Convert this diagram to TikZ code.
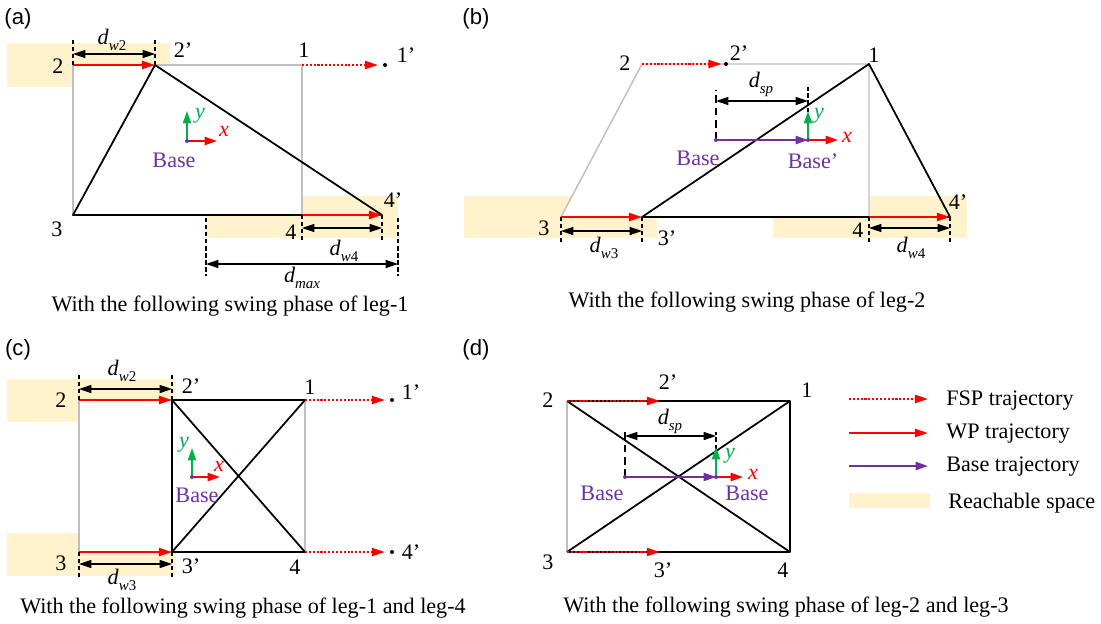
\documentclass[tikz,border=0pt]{standalone}
\usepackage{fontspec}
\setmainfont{Liberation Serif}
\newfontfamily\panelfont{Liberation Sans}
\usetikzlibrary{arrows.meta, calc}
\definecolor{cReach}{HTML}{FFF2CC}
\definecolor{cGrey}{HTML}{BFBFBF}
\definecolor{cRed}{HTML}{FF0000}
\definecolor{cGreen}{HTML}{00B050}
\definecolor{cBase}{HTML}{7030A0}
\newcommand{\dlab}[1]{\textit{d}\raisebox{-0.6ex}{\fontsize{8.5}{9}\selectfont #1}}
\tikzset{
  reach/.style    ={fill=cReach, draw=none},
  support/.style  ={draw=cGrey, line width=0.8pt},
  leg/.style      ={draw=black, line width=1pt, line join=round},
  wp/.style       ={-{Triangle[length=7.5pt,width=4.6pt]}, draw=cRed, line width=1.1pt},
  fsp/.style      ={wp, dash pattern=on 1.2pt off 1pt},
  basetraj/.style ={-{Triangle[length=7pt,width=4.6pt]}, draw=cBase, line width=1.1pt},
  xaxis/.style    ={-{Triangle[length=7pt,width=4.6pt]}, draw=cRed, line width=1.1pt},
  yaxis/.style    ={-{Triangle[length=7pt,width=4.6pt]}, draw=cGreen, line width=1.1pt},
  dim/.style      ={{Triangle[length=7pt,width=4.6pt]}-{Triangle[length=7pt,width=4.6pt]}, line width=0.6pt},
  tick/.style     ={line width=0.6pt, dash pattern=on 2.5pt off 1.5pt},
  lbl/.style      ={font=\fontsize{12.6}{14}\selectfont, inner sep=0pt},
  dimlbl/.style   ={lbl},
  baselbl/.style  ={lbl, text=cBase},
  axlbl/.style    ={lbl, font=\fontsize{12.6}{14}\selectfont\itshape},
  panel/.style    ={font=\panelfont\fontsize{12.6}{14}\selectfont, inner sep=0pt},
  caption/.style  ={lbl},
  dotpt/.style    ={fill=black},
  basept/.style   ={fill=cBase}
}

\begin{document}
\begin{tikzpicture}[x=0.02cm, y=-0.02cm]
  \useasboundingbox (0,0) rectangle (1101,623);

  % ====================== (a) leg-1 swing ======================
  \node[panel] (pa) at (18,19) {(a)};
  \coordinate (a2)  at (73,65);
  \coordinate (a1)  at (302,65);
  \coordinate (a3)  at (73,215);
  \coordinate (a4)  at (302,215);
  \coordinate (a2p) at (155,65);
  \coordinate (a4p) at (382,215);
  \coordinate (a1p) at (385,65);

  \fill[reach] (7,43) rectangle (170,87);
  \fill[reach] (206,196) rectangle (398,238);
  \fill[white] (a2) rectangle (a4);
  \draw[support] (a2) rectangle (a4);
  \draw[leg] (a2p) -- (a3) -- (a4p) -- cycle;
  \draw[wp] (a2) -- (a2p);
  \draw[wp] (a4) -- (a4p);
  \draw[fsp, shorten >=4pt] (a1) -- (a1p);
  \fill[dotpt] (a1p) circle (2);

  \node[lbl] (la2)  at (58,66)   {2};
  \node[lbl] (la2p) at (183,50)  {2'};
  \node[lbl] (la1)  at (304,50)  {1};
  \node[lbl] (la1p) at (406,55)  {1'};
  \node[lbl] (la3)  at (57,229)  {3};
  \node[lbl] (la4)  at (291,232) {4};
  \node[lbl] (la4p) at (393,200) {4'};

  % dimensions
  \draw[tick] (a2) -- ++(0,-28);
  \draw[tick] (a2p) -- ++(0,-28);
  \draw[dim] ($(a2)+(0,-11)$) -- ($(a2p)+(0,-11)$);
  \node[dimlbl] (lw2a) at (112,40) {\dlab{\textit{w}2}};
  \draw[tick] (a4) -- ++(0,26);
  \draw[tick] (a4p) -- ++(0,26);
  \draw[dim] ($(a4)+(0,13)$) -- ($(a4p)+(0,13)$);
  \node[dimlbl] (lw4a) at (344,251) {\dlab{\textit{w}4}};
  \coordinate (amin) at (206,218);
  \coordinate (amax) at (398,218);
  \draw[tick] (amin) -- ++(0,58);
  \draw[tick] (amax) -- ++(0,58);
  \draw[dim] ($(amin)+(0,46)$) -- ($(amax)+(0,46)$);
  \node[dimlbl] (lmax) at (302,278) {\dlab{\textit{max}}};

  % body frame
  \coordinate (aB) at (187,141);
  \draw[yaxis] (aB) -- ++(0,-30);
  \draw[xaxis] (aB) -- ++(30,0);
  \fill[basept] (aB) circle (2);
  \node[axlbl, text=cGreen] (ay) at (200,116) {y};
  \node[axlbl, text=cRed]   (ax) at (224,131) {x};
  \node[baselbl] (aBl) at (174,160) {Base};

  \node[caption] (capa) at (230,306) {With the following swing phase of leg-1};

  % ====================== (b) leg-2 swing ======================
  \node[panel] (pb) at (476,19) {(b)};
  \coordinate (b2)  at (642,64);
  \coordinate (b1)  at (869,64);
  \coordinate (b3)  at (561,217);
  \coordinate (b4)  at (869,217);
  \coordinate (b2p) at (726,64);
  \coordinate (b3p) at (642,217);
  \coordinate (b4p) at (950,217);

  \fill[reach] (464,196) rectangle (657,238);
  \fill[reach] (773,196) rectangle (967,238);
  \fill[white] (b2) -- (b1) -- (b4) -- (b3) -- cycle;
  \draw[support] (b2) -- (b1) -- (b4) -- (b3) -- cycle;
  \draw[leg] (b3p) -- (b1) -- (b4p) -- cycle;
  \draw[wp] (b3) -- (b3p);
  \draw[wp] (b4) -- (b4p);
  \draw[fsp, shorten >=2.5pt] (b2) -- (b2p);
  \fill[dotpt] (b2p) circle (2);

  \node[lbl] (lb2)  at (625,63)  {2};
  \node[lbl] (lb2p) at (739,53)  {2'};
  \node[lbl] (lb1)  at (874,55)  {1};
  \node[lbl] (lb3)  at (544,228) {3};
  \node[lbl] (lb3p) at (667,238) {3'};
  \node[lbl] (lb4)  at (858,230) {4};
  \node[lbl] (lb4p) at (958,202) {4'};

  % dimensions
  \draw[tick] (b3) -- ++(0,26);
  \draw[tick] (b3p) -- ++(0,26);
  \draw[dim] ($(b3)+(0,14)$) -- ($(b3p)+(0,14)$);
  \node[dimlbl] (lw3b) at (604,248) {\dlab{\textit{w}3}};
  \draw[tick] (b4) -- ++(0,26);
  \draw[tick] (b4p) -- ++(0,26);
  \draw[dim] ($(b4)+(0,11)$) -- ($(b4p)+(0,11)$);
  \node[dimlbl] (lw4b) at (911,248) {\dlab{\textit{w}4}};

  % body frame
  \coordinate (bB)  at (716,140);
  \coordinate (bBp) at (808,140);
  \draw[tick, dash pattern=on 4.5pt off 2.5pt] (bB) -- ++(0,-50);
  \draw[tick] (bBp) -- ++(0,-53);
  \draw[dim] ($(bB)+(0,-39)$) -- ($(bBp)+(0,-39)$);
  \node[dimlbl] (lspb) at (761,84) {\dlab{\textit{sp}}};
  \draw[basetraj] (bB) -- (bBp);
  \fill[basept] (bB) circle (2);
  \draw[yaxis] (bBp) -- ++(0,-29);
  \draw[xaxis] (bBp) -- ++(30,0);
  \fill[basept] (bBp) circle (2);
  \node[axlbl, text=cGreen] (by) at (819,116) {y};
  \node[axlbl, text=cRed]   (bx) at (847,137) {x};
  \node[baselbl] (bBl)  at (698,158) {Base};
  \node[baselbl] (bBpl) at (813,161) {Base'};

  \node[caption] (capb) at (747,302) {With the following swing phase of leg-2};

  % ====================== (c) leg-1 and leg-4 swing ======================
  \node[panel] (pc) at (18,350) {(c)};
  \coordinate (c2)  at (79,400);
  \coordinate (c2p) at (172,400);
  \coordinate (c1)  at (305,400);
  \coordinate (c3)  at (79,552);
  \coordinate (c3p) at (172,552);
  \coordinate (c4)  at (305,552);
  \coordinate (c1p) at (392,400);
  \coordinate (c4p) at (392,552);

  \fill[reach] (7,379) rectangle (176,422);
  \fill[reach] (7,533) rectangle (176,576);
  \fill[white] (c2) rectangle (c4);
  \draw[support] (c2) rectangle (c4);
  \draw[leg] (c1) -- (c2p) -- (c3p) -- (c4);
  \draw[leg] (c2p) -- (c4);
  \draw[leg] (c3p) -- (c1);
  \draw[wp] (c2) -- (c2p);
  \draw[wp] (c3) -- (c3p);
  \draw[fsp, shorten >=4pt] (c1) -- (c1p);
  \draw[fsp, shorten >=4pt] (c4) -- (c4p);
  \fill[dotpt] (c1p) circle (2);
  \fill[dotpt] (c4p) circle (2);

  \node[lbl] (lc2)  at (61,400)  {2};
  \node[lbl] (lc2p) at (191,386) {2'};
  \node[lbl] (lc1)  at (310,387) {1};
  \node[lbl] (lc1p) at (411,392) {1'};
  \node[lbl] (lc3)  at (61,563)  {3};
  \node[lbl] (lc3p) at (191,566) {3'};
  \node[lbl] (lc4)  at (295,567) {4};
  \node[lbl] (lc4p) at (411,552) {4'};

  % dimensions
  \draw[tick] (c2) -- ++(0,-27);
  \draw[tick] (c2p) -- ++(0,-27);
  \draw[dim] ($(c2)+(0,-11)$) -- ($(c2p)+(0,-11)$);
  \node[dimlbl] (lw2c) at (122,371) {\dlab{\textit{w}2}};
  \draw[tick] (c3) -- ++(0,26);
  \draw[tick] (c3p) -- ++(0,26);
  \draw[dim] ($(c3)+(0,12)$) -- ($(c3p)+(0,12)$);
  \node[dimlbl] (lw3c) at (122,580) {\dlab{\textit{w}3}};

  % body frame
  \coordinate (cB) at (192,477);
  \draw[yaxis] (cB) -- ++(0,-29);
  \draw[xaxis] (cB) -- ++(28,0);
  \fill[basept] (cB) circle (2);
  \node[axlbl, text=cGreen] (cy) at (184,445) {y};
  \node[axlbl, text=cRed]   (cx) at (219,466) {x};
  \node[baselbl] (cBl) at (197,495) {Base};

  \node[caption] (capc) at (243,608) {With the following swing phase of leg-1 and leg-4};

  % ====================== (d) leg-2 and leg-3 swing ======================
  \node[panel] (pd) at (476,350) {(d)};
  \coordinate (d2)  at (567,401);
  \coordinate (d1)  at (790,401);
  \coordinate (d3)  at (567,552);
  \coordinate (d4)  at (790,552);
  \coordinate (d2p) at (660,401);
  \coordinate (d3p) at (660,552);

  \draw[support] (d2) -- (d3);
  \draw[leg] (d2) -- (d1) -- (d4) -- (d3);
  \draw[leg] (d2) -- (d4);
  \draw[leg] (d3) -- (d1);
  \draw[fsp] (d2) -- (d2p);
  \draw[fsp] (d3) -- (d3p);

  \node[lbl] (ld2)  at (548,400) {2};
  \node[lbl] (ld2p) at (668,382) {2'};
  \node[lbl] (ld1)  at (807,390) {1};
  \node[lbl] (ld3)  at (548,562) {3};
  \node[lbl] (ld3p) at (663,570) {3'};
  \node[lbl] (ld4)  at (783,570) {4};

  % body frame
  \coordinate (dB)  at (625,477);
  \coordinate (dBp) at (716,477);
  \draw[tick, dash pattern=on 4.5pt off 2.5pt] (dB) -- ++(0,-45);
  \draw[tick] (dBp) -- ++(0,-45);
  \draw[dim] ($(dB)+(0,-41)$) -- ($(dBp)+(0,-41)$);
  \node[dimlbl] (lspd) at (670,421) {\dlab{\textit{sp}}};
  \draw[basetraj] (dB) -- (dBp);
  \fill[basept] (dB) circle (2);
  \draw[yaxis] (dBp) -- ++(0,-30);
  \draw[xaxis] (dBp) -- ++(27,0);
  \fill[basept] (dBp) circle (2);
  \node[axlbl, text=cGreen] (dy) at (730,456) {y};
  \node[axlbl, text=cRed]   (dx) at (753,474) {x};
  \node[baselbl] (dBl)  at (602,493) {Base};
  \node[baselbl] (dBpl) at (747,493) {Base};

  \node[caption] (capd) at (786,607) {With the following swing phase of leg-2 and leg-3};

  % ====================== Legend ======================
  \coordinate (gA) at (849,399);
  \coordinate (gB) at (928,399);
  \draw[fsp] (gA) -- (gB);
  \node[lbl, anchor=west] (gfsp) at (946,401) {FSP trajectory};
  \draw[wp] ($(gA)+(0,34)$) -- ($(gB)+(0,34)$);
  \node[lbl, anchor=west] (gwp) at (946,434) {WP trajectory};
  \draw[basetraj] ($(gA)+(0,67)$) -- ($(gB)+(0,67)$);
  \node[lbl, anchor=west] (gbase) at (946,467) {Base trajectory};
  \fill[reach] (849,493) rectangle (930,508);
  \node[lbl, anchor=west] (greach) at (948,503) {Reachable space};

\end{tikzpicture}
\end{document}
